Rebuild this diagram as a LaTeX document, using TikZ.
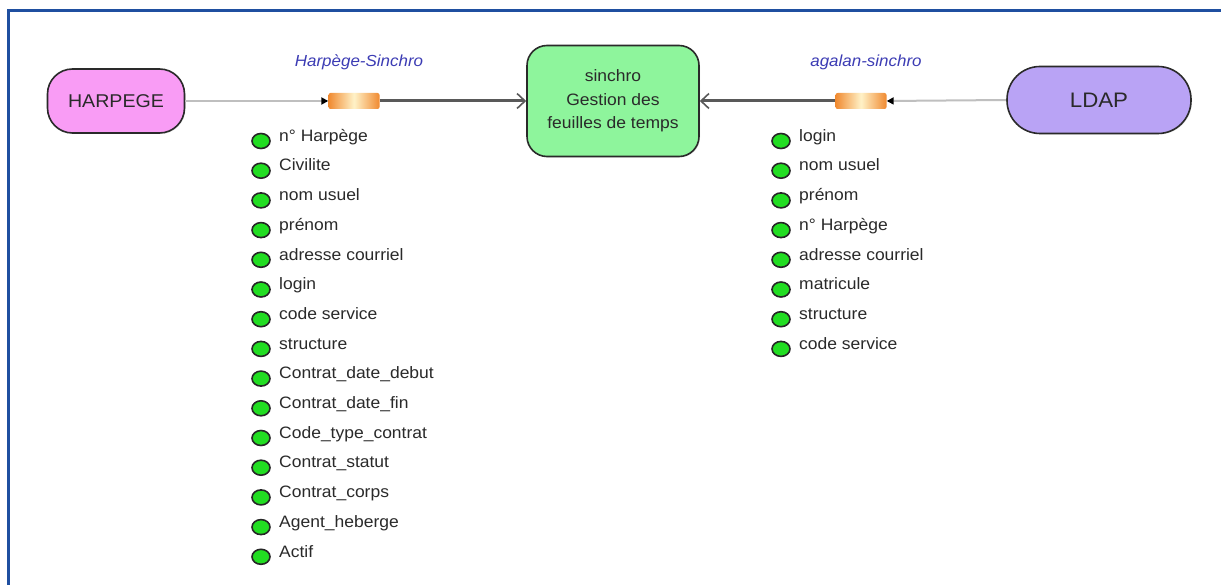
\documentclass[tikz,border=0pt]{standalone}
\usepackage{fontspec}
\setmainfont{Liberation Sans}[FakeStretch=1.06]
\usetikzlibrary{arrows.meta,shadows,shapes.geometric}
\definecolor{frameblue}{HTML}{1F4FA0}
\definecolor{harpink}{HTML}{F99CF5}
\definecolor{sinchgreen}{HTML}{8EF59C}
\definecolor{ldappurple}{HTML}{B9A3F5}
\definecolor{lblblue}{HTML}{3C3CB4}
\definecolor{txtgray}{HTML}{2A2A2A}
\definecolor{bulgreen}{HTML}{22DD22}
\definecolor{barorange}{HTML}{F08A30}
\definecolor{barlight}{HTML}{FFF2C8}
\tikzset{
  sysbox/.style={draw=txtgray, line width=1.6pt, text=txtgray, align=center,
    drop shadow={opacity=0.2, shadow xshift=1pt, shadow yshift=-1pt}},
  flowbar/.style={minimum width=51pt, minimum height=16pt, inner sep=0pt,
    rounded corners=2pt, left color=barorange, right color=barorange, middle color=barlight},
  thinlink/.style={draw=gray!50, line width=2pt, -{Triangle[length=7pt,width=7pt,fill=black,color=black]}},
  thicklink/.style={draw=gray!70!black, line width=3pt, -{Straight Barb[length=8pt,width=15pt,line width=1.6pt]}},
  flowlbl/.style={text=lblblue, font=\fontsize{16}{18}\selectfont\itshape},
  bul/.style={ellipse, draw=black!85, line width=1.6pt, fill=bulgreen, minimum width=18pt, minimum height=15pt, inner sep=0pt},
  itm/.style={anchor=west, text=txtgray, inner sep=0pt, text height=12pt, text depth=3.5pt, font=\fontsize{16.5}{18}\selectfont}
}
\begin{document}
\begin{tikzpicture}[x=1pt,y=-1pt]
\useasboundingbox (0,0) rectangle (1221,585);
\fill[white] (0,0) rectangle (1221,585);
% frame
\draw[frameblue, line width=3pt] (8,585) -- (8,11) -- (1221,11);
% systems
\node[sysbox, fill=harpink, minimum width=137pt, minimum height=64pt, rounded corners=25pt,
  font=\fontsize{18.5}{20}\selectfont] (harpege) at (116,101) {HARPEGE};
\node[sysbox, fill=sinchgreen, minimum width=172pt, minimum height=111pt, rounded corners=20pt,
  font=\fontsize{16.5}{23.5}\selectfont] (sinchro) at (613,101) {sinchro\\Gestion des\\feuilles de temps};
\node[sysbox, fill=ldappurple, minimum width=184pt, minimum height=67pt, rounded corners=33pt,
  font=\fontsize{21}{23}\selectfont] (ldap) at (1099,100) {LDAP};
% flow bars
\node[flowbar] (bar1) at (354,101) {};
\node[flowbar] (bar2) at (861,101) {};
\node[flowlbl] (lbl1) at (359,62) {Harpège-Sinchro};
\node[flowlbl] (lbl2) at (866,62) {agalan-sinchro};
% connectors
\draw[thinlink] (harpege.east) -- (bar1.west);
\draw[thicklink] (bar1.east) -- (sinchro.west);
\draw[thinlink] (ldap.west) -- (bar2.east);
\draw[thicklink] (bar2.west) -- (sinchro.east);
% left list
\foreach \t [count=\i] in {n° Harpège,Civilite,nom usuel,prénom,adresse courriel,login,code service,structure,Contrat\_date\_debut,Contrat\_date\_fin,Code\_type\_contrat,Contrat\_statut,Contrat\_corps,Agent\_heberge,Actif}{
  \node[bul] (lb\i) at (261,{137+(\i-1)*29.7+4}) {};
  \node[itm] (lt\i) at (279,{137+(\i-1)*29.7}) {\t};
}
% right list
\foreach \t [count=\i] in {login,nom usuel,prénom,n° Harpège,adresse courriel,matricule,structure,code service}{
  \node[bul] (rb\i) at (781,{137+(\i-1)*29.7+4}) {};
  \node[itm] (rt\i) at (799,{137+(\i-1)*29.7}) {\t};
}
\end{tikzpicture}
\end{document}
